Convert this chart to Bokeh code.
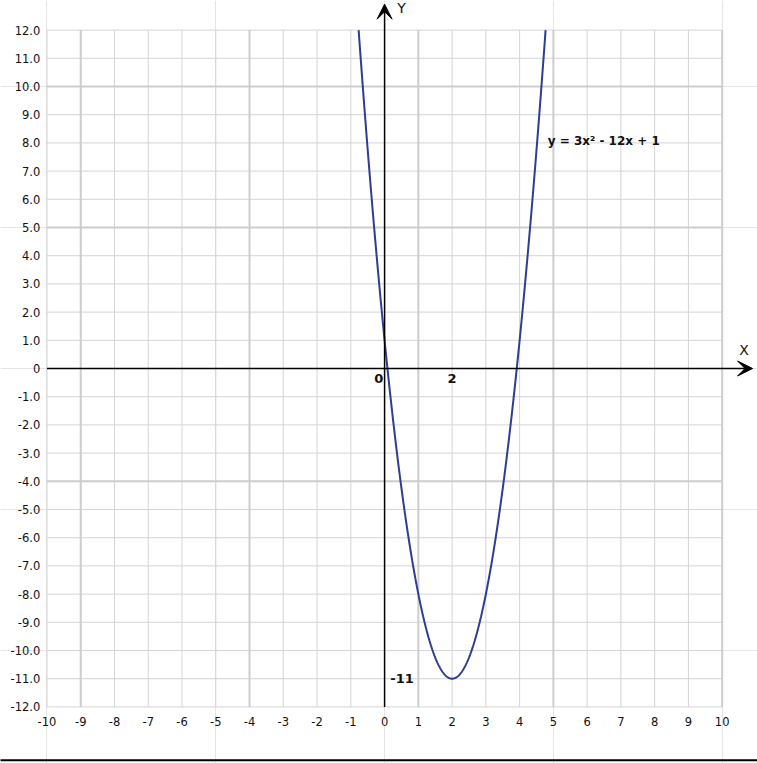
import numpy as np
from bokeh.plotting import figure
from bokeh.models import Range1d, Arrow, VeeHead
from bokeh.core.properties import value
from bokeh.embed import file_html
from bokeh.resources import INLINE

# Parabola y = a x^2 + b x + c
coef_a = 3
coef_b = -12
coef_c = 1

# Axis extents and tick labels
x_ticks = list(range(-10, 11))
y_ticks = list(range(-12, 13))
x_tick_labels = [str(v) for v in x_ticks]
y_tick_labels = ["0" if v == 0 else f"{v:.1f}" for v in y_ticks]

# Gridlines drawn slightly heavier
heavy_x = [-9, -4, 1, 5, 10]
heavy_y = [10, 5, -4]

X_MIN, X_MAX = -10, 10
Y_MIN, Y_MAX = -12, 12

p = figure(
    width=757, height=763,
    x_range=Range1d(-11.377, 11.046),
    y_range=Range1d(-14.007, 13.05),
    x_axis_location=None, y_axis_location=None,
    toolbar_location=None, output_backend="svg",
    min_border=0, outline_line_color=None,
    background_fill_color="white", border_fill_color="white",
)

# grid
light_x = [v for v in x_ticks if v not in heavy_x and v != 0]
light_y = [v for v in y_ticks if v not in heavy_y and v != 0]
p.segment(x0=light_x, y0=[Y_MIN] * len(light_x), x1=light_x, y1=[Y_MAX] * len(light_x),
          line_color="#d4d4d4", line_width=1)
p.segment(x0=[X_MIN] * len(light_y), y0=light_y, x1=[X_MAX] * len(light_y), y1=light_y,
          line_color="#d4d4d4", line_width=1)
p.segment(x0=heavy_x, y0=[Y_MIN] * len(heavy_x), x1=heavy_x, y1=[Y_MAX] * len(heavy_x),
          line_color="#cdcdcd", line_width=2)
p.segment(x0=[X_MIN] * len(heavy_y), y0=heavy_y, x1=[X_MAX] * len(heavy_y), y1=heavy_y,
          line_color="#cdcdcd", line_width=2)

# tick labels
tick_font = value("DejaVu Sans")
p.text(x=[X_MIN - 0.2] * len(y_ticks), y=y_ticks, text=y_tick_labels,
       text_font=tick_font, text_font_size="11.5px", text_color="#111111",
       text_align="right", text_baseline="middle")
p.text(x=x_ticks, y=[Y_MIN - 0.52] * len(x_ticks), text=x_tick_labels,
       text_font=tick_font, text_font_size="11.5px", text_color="#111111",
       text_align="center", text_baseline="middle")

# coordinate axes with arrowheads
p.add_layout(Arrow(end=VeeHead(size=15, fill_color="black", line_color="black"),
                   x_start=0, y_start=Y_MIN, x_end=0, y_end=12.92,
                   line_color="black", line_width=1.5))
p.add_layout(Arrow(end=VeeHead(size=15, fill_color="black", line_color="black"),
                   x_start=X_MIN, y_start=0, x_end=10.9, y_end=0,
                   line_color="black", line_width=1.5))
p.text(x=[0.5], y=[12.77], text=["Y"], text_font=tick_font, text_font_size="14px",
       text_color="#111111", text_align="center", text_baseline="middle")
p.text(x=[10.65], y=[0.64], text=["X"], text_font=tick_font, text_font_size="14px",
       text_color="#111111", text_align="center", text_baseline="middle")

# the parabola, clipped to the top of the grid
disc = np.sqrt(coef_b ** 2 - 4 * coef_a * (coef_c - Y_MAX))
x_lo = (-coef_b - disc) / (2 * coef_a)
x_hi = (-coef_b + disc) / (2 * coef_a)
xs = np.linspace(x_lo, x_hi, 600)
ys = coef_a * xs ** 2 + coef_b * xs + coef_c
p.line(xs, ys, line_color="#2e3d8f", line_width=2)

# vertex annotations
vx = -coef_b / (2 * coef_a)
vy = coef_c - coef_b ** 2 / (4 * coef_a)
bold_font = value("DejaVu Sans")
p.text(x=[-0.17], y=[-0.34], text=["0"], text_font=bold_font, text_font_style="bold",
       text_font_size="13px", text_color="#111111", text_align="center", text_baseline="middle")
p.text(x=[vx], y=[-0.34], text=[f"{vx:g}"], text_font=bold_font, text_font_style="bold",
       text_font_size="13px", text_color="#111111", text_align="center", text_baseline="middle")
p.text(x=[0.17], y=[vy], text=[f"{vy:g}"], text_font=bold_font, text_font_style="bold",
       text_font_size="13px", text_color="#111111", text_align="left", text_baseline="middle")
p.text(x=[4.83], y=[8.05], text=["y = 3x\u00b2 - 12x + 1"], text_font=bold_font,
       text_font_style="bold", text_font_size="12px", text_color="#111111",
       text_align="left", text_baseline="middle")

# bottom rule
p.segment(x0=[-11.4], y0=[-13.89], x1=[11.1], y1=[-13.89], line_color="black", line_width=2)

open("out.html", "w").write(file_html(p, INLINE))
